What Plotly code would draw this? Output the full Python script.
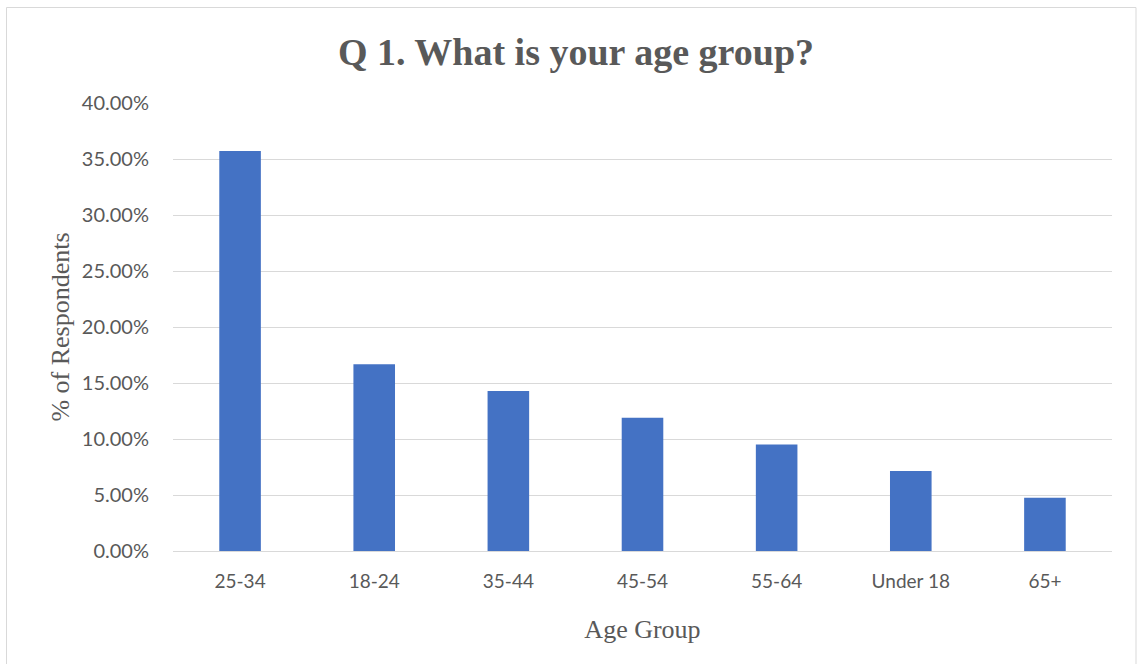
import plotly.graph_objects as go

categories = ["25-34", "18-24", "35-44", "45-54", "55-64", "Under 18", "65+"]
values = [35.71, 16.67, 14.29, 11.90, 9.52, 7.14, 4.76]
tick_vals = [0, 5, 10, 15, 20, 25, 30, 35, 40]
tick_text = [f"{v:.2f}%" for v in tick_vals]

W, H = 1137, 664
L, R, T, B = 173, 25, 103, 113
pw, ph = W - L - R, H - T - B

fig = go.Figure(go.Bar(
    x=categories, y=values, marker_color="#4472C4",
    marker_line_width=0, width=0.31,
))

def px(x):
    return (x - L) / pw

def py(y):
    return (H - B - y) / ph

fig.update_layout(
    width=W, height=H,
    margin=dict(l=L, r=R, t=T, b=B),
    paper_bgcolor="white", plot_bgcolor="white",
    showlegend=False,
    title=dict(text="<b>Q 1. What is your age group?</b>", x=576 / W, xanchor="center",
               y=1 - 52 / H, yanchor="middle",
               font=dict(family="Liberation Serif", size=38, color="#595959")),
    xaxis=dict(showgrid=False, showline=False, ticks="", ticklabelstandoff=17,
               tickfont=dict(family="Lato", size=19, color="#595959"),
               title=dict(text="Age Group", standoff=28,
                          font=dict(family="Liberation Serif", size=26, color="#595959"))),
    yaxis=dict(range=[0, 40], tickvals=tick_vals, ticktext=tick_text,
               showgrid=True, gridcolor="#D9D9D9", gridwidth=1,
               zeroline=True, zerolinecolor="#D9D9D9", zerolinewidth=1,
               showline=False, ticks="", ticklabelstandoff=23,
               tickfont=dict(family="Lato", size=20, color="#595959"),
               title=dict(text="% of Respondents", standoff=4,
                          font=dict(family="Liberation Serif", size=26, color="#595959"))),
    shapes=[dict(type="rect", xref="paper", yref="paper",
                 x0=px(6.5), x1=px(1136), y0=py(680), y1=py(7.5),
                 line=dict(color="#D9D9D9", width=1), fillcolor="rgba(0,0,0,0)", layer="below")],
)

fig.write_html("out.html", config={"displayModeBar": False},
               post_script="document.body.style.margin='0';")
